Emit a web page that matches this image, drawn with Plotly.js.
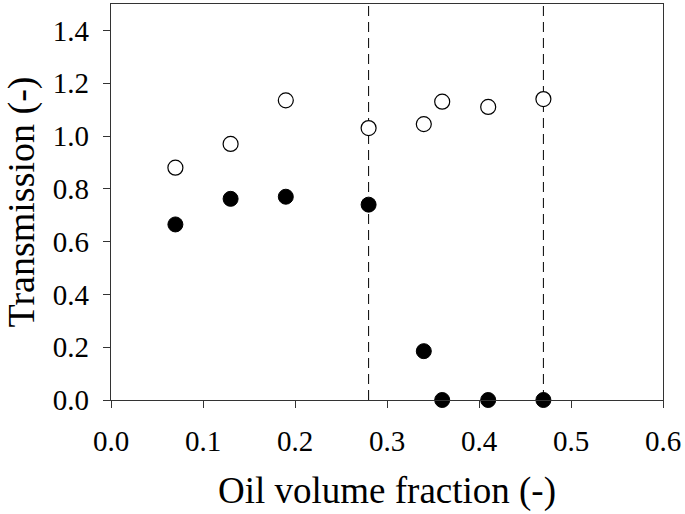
<!DOCTYPE html>
<html>
<head>
<meta charset="utf-8">
<script src="https://cdn.plot.ly/plotly-3.0.1.min.js"></script>
<style>
  body { margin: 0; background: #fff; }
  #grafico { width: 685px; height: 514px; }
</style>
</head>
<body>
<div id="grafico"></div>
<script>
// Fracciones de volumen de aceite
const fraccion = [0.07, 0.13, 0.19, 0.28, 0.34, 0.36, 0.41, 0.47];
// Transmision, circulos abiertos y rellenos
const transAbierto = [0.88, 0.97, 1.135, 1.03, 1.045, 1.13, 1.11, 1.14];
const transRelleno = [0.665, 0.762, 0.77, 0.74, 0.185, 0.0, 0.0, 0.0];
// Lineas discontinuas verticales
const limites = [0.28, 0.47];

const fuente = "Liberation Serif, Times New Roman, serif";

const lineas = limites.map(x => ({
    type: "line",
    xref: "x",
    yref: "paper",
    x0: x, x1: x,
    y0: 0, y1: 1,
    layer: "below",
    line: { color: "#000", width: 1, dash: "10px,6px" }
}));

Plotly.newPlot("grafico", [
    {
        x: fraccion,
        y: transAbierto,
        mode: "markers",
        cliponaxis: false,
        marker: { size: 15, color: "#fff", line: { color: "#000", width: 1.2 } }
    },
    {
        x: fraccion,
        y: transRelleno,
        mode: "markers",
        cliponaxis: false,
        marker: { size: 15, color: "#000", line: { color: "#000", width: 1 } }
    }
], {
    width: 685,
    height: 514,
    margin: { l: 111, r: 22, t: 4, b: 114 },
    showlegend: false,
    paper_bgcolor: "#fff",
    plot_bgcolor: "#fff",
    font: { family: fuente, color: "#000" },
    shapes: lineas,
    xaxis: {
        range: [0, 0.6],
        dtick: 0.1,
        tickformat: ".1f",
        showgrid: false,
        zeroline: false,
        showline: true,
        mirror: true,
        linecolor: "#333",
        linewidth: 1.3,
        ticks: "outside",
        ticklen: 7,
        tickcolor: "#333",
        tickfont: { size: 29 },
        ticklabelstandoff: 8,
        title: { text: "Oil volume fraction (-)", font: { size: 37 }, standoff: 21 }
    },
    yaxis: {
        range: [0, 1.5],
        dtick: 0.2,
        tickformat: ".1f",
        showgrid: false,
        zeroline: false,
        showline: true,
        mirror: true,
        linecolor: "#333",
        linewidth: 1.3,
        ticks: "outside",
        ticklen: 7,
        tickcolor: "#333",
        tickfont: { size: 29 },
        ticklabelstandoff: 8,
        title: { text: "Transmission (-)", font: { size: 38 }, standoff: 18 }
    }
}, { displayModeBar: false });
</script>
</body>
</html>
